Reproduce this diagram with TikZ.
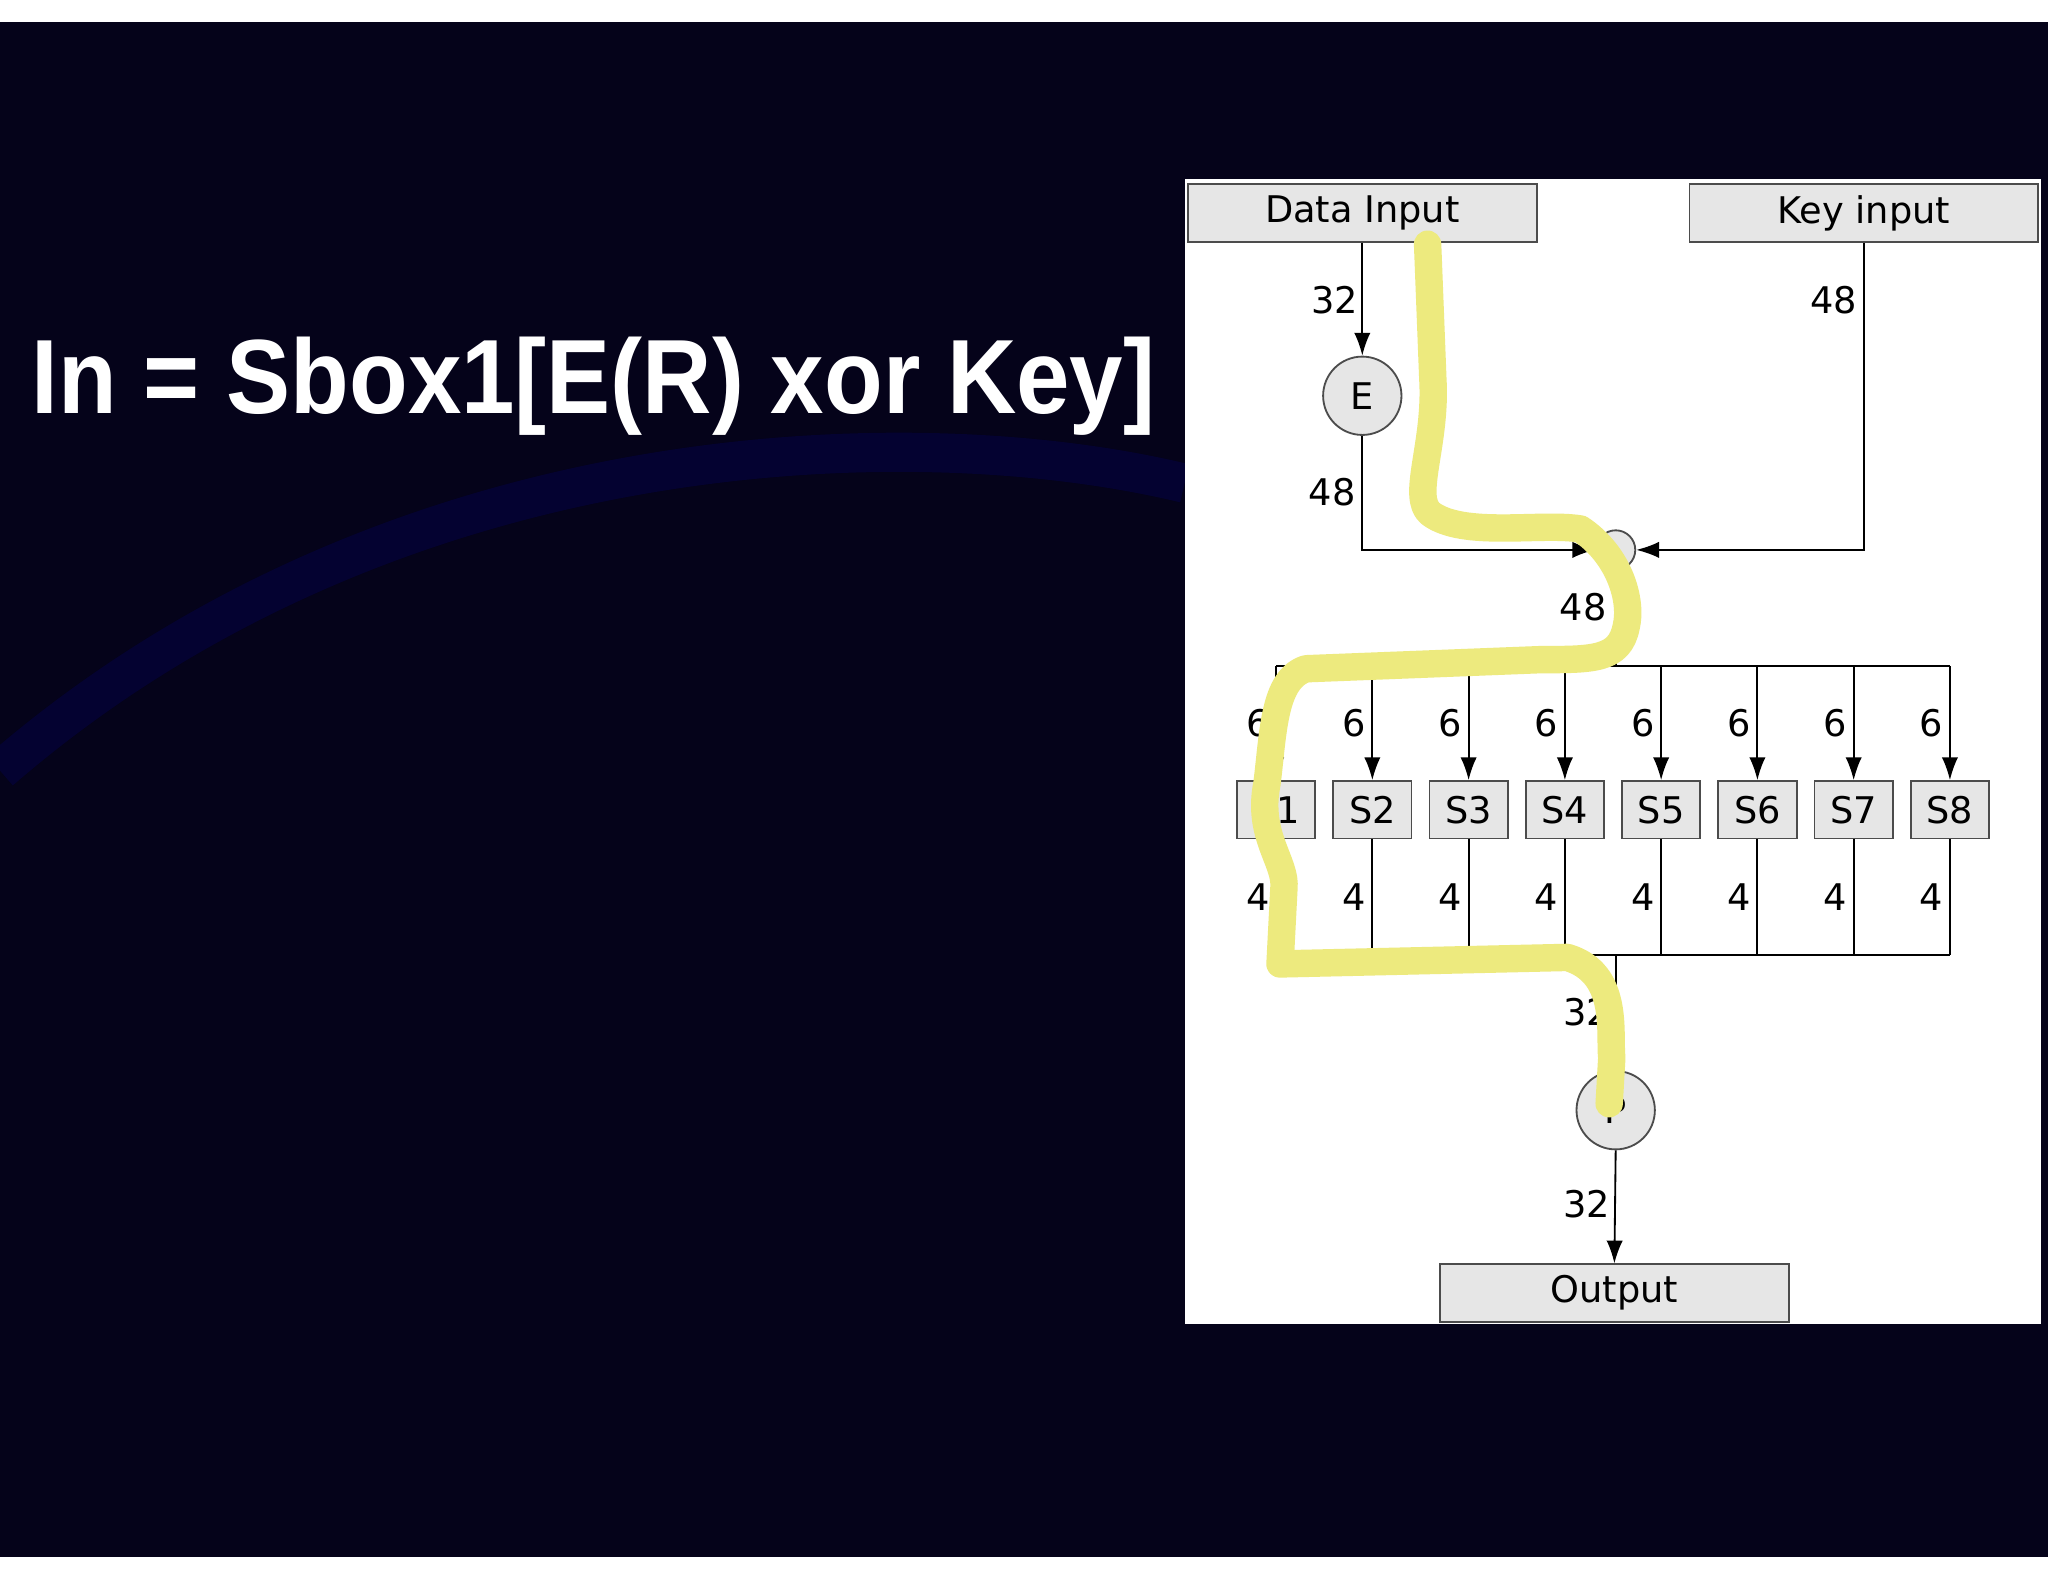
\documentclass[tikz,border=0pt]{standalone}
\usepackage{fontspec}
\setmainfont{DejaVu Sans}
\newfontfamily\titlefont{Liberation Sans}
\usetikzlibrary{arrows.meta}
\definecolor{bgnavy}{HTML}{05031A}
\definecolor{boxgray}{HTML}{E6E6E6}
\definecolor{hl}{HTML}{EDEA7E}
\begin{document}
\begin{tikzpicture}[x=0.02cm,y=-0.02cm,
  blk/.style={draw=black!70,fill=boxgray,line width=0.8pt,minimum height=0.88cm,inner sep=0pt,font=\fontsize{16}{16}\selectfont},
  wide/.style={blk,minimum width=5.34cm},
  sbox/.style={blk,minimum width=1.2cm},
  circ/.style={circle,draw=black!70,fill=boxgray,line width=0.8pt,minimum size=1.2cm,inner sep=0pt,font=\fontsize{16}{16}\selectfont},
  wire/.style={line width=0.8pt,black},
  arr/.style={wire,-{Latex[length=0.35cm,width=0.25cm]}},
  lbl/.style={font=\fontsize{16}{16}\selectfont,inner sep=0pt}]
\useasboundingbox (0,0) rectangle (1568,1211);
\fill[white] (0,0) rectangle (1568,1211);
\fill[bgnavy] (0,17) rectangle (1568,1192);
\draw[line width=0.6cm,color=blue!20!bgnavy,opacity=0.5] (0,590) .. controls (300,330) and (700,320) .. (907,370);
\node[anchor=west,text=white,font=\titlefont\bfseries\fontsize{46}{46}\selectfont,inner sep=0pt,xscale=0.91] (title) at (24,296) {In = Sbox1[E(R) xor Key]};
\fill[white] (907,137) rectangle (1563,1014);
\node[wide] (din) at (1043,163) {Data Input};
\node[wide] (kin) at (1427,163) {Key input};
\node[circ] (E) at (1043,303) {E};
\node[circle,draw=black!70,fill=boxgray,line width=0.8pt,minimum size=0.6cm,inner sep=0pt] (X) at (1237,421) {};
\draw[arr] (din.south) -- (E.north);
\draw[arr] (E.south) |- (X.west);
\draw[arr] (kin.south) |- (X.east);
\node[lbl] (l32a) at (1022,230) {32};
\node[lbl] (l48a) at (1404,230) {48};
\node[lbl] (l48b) at (1020,377) {48};
\node[lbl] (l48c) at (1212,465) {48};
\coordinate (bt) at (1237,510);
\draw[wire] (X.south) -- (bt);
\draw[wire] (977,510) -- (1493,510);
\draw[wire] (977,731) -- (1493,731);
\foreach \i in {1,...,8}{
  \pgfmathsetmacro\xx{977+73.7*(\i-1)}
  \node[sbox] (S\i) at (\xx,620) {S\i};
  \coordinate (t\i) at (\xx,510);
  \coordinate (b\i) at (\xx,731);
  \draw[arr] (t\i) -- (S\i.north);
  \draw[wire] (S\i.south) -- (b\i);
  \node[lbl] (six\i) at (\xx-14,554) {6};
  \node[lbl] (four\i) at (\xx-14,687) {4};
}
\node[circ] (P) at (1237,850) {P};
\coordinate (pt) at (1237,731);
\draw[wire] (pt) -- (P.north);
\node[lbl] (l32b) at (1215,775) {32};
\node[wide] (out) at (1236,990) {Output};
\draw[arr] (P.south) -- (out.north);
\node[lbl] (l32c) at (1215,922) {32};
\draw[hl,line width=0.42cm,line cap=round,line join=round]
  (1093,187) -- (1097,290) .. controls (1100,340) and (1080,380) .. (1095,393)
  .. controls (1120,412) and (1180,400) .. (1210,405)
  .. controls (1240,425) and (1250,460) .. (1245,480)
  .. controls (1240,505) and (1220,505) .. (1180,505)
  -- (1000,512) .. controls (975,520) and (975,560) .. (970,600)
  .. controls (962,640) and (985,660) .. (983,680)
  -- (980,738) -- (1200,733)
  .. controls (1240,745) and (1232,790) .. (1234,810) -- (1232,845);
\end{tikzpicture}
\end{document}
